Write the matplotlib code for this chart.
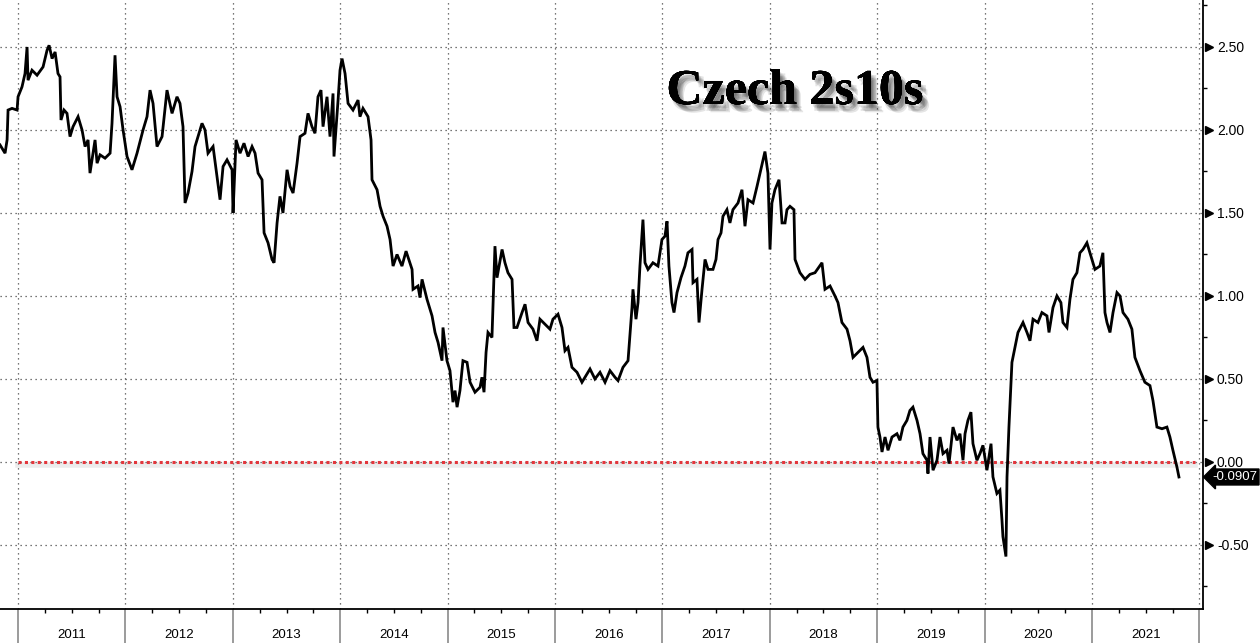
import numpy as np
import matplotlib.pyplot as plt
import matplotlib.patheffects as pe
import matplotlib.transforms as mtransforms
from matplotlib.ticker import MultipleLocator, FixedLocator, FuncFormatter

# Czech 2y-10y spread (dates as decimal years)
dates = [
    # 2010 / 2011
    2010.832, 2010.879, 2010.898, 2010.907, 2010.944, 2010.991, 2011.000, 2011.037, 2011.065, 2011.084,
    2011.093, 2011.130, 2011.177, 2011.233, 2011.270, 2011.289, 2011.317, 2011.345, 2011.372, 2011.391,
    2011.400, 2011.428, 2011.456, 2011.484, 2011.512, 2011.559, 2011.596, 2011.624, 2011.652, 2011.670,
    2011.717, 2011.736, 2011.764, 2011.810, 2011.857, 2011.875, 2011.903, 2011.922, 2011.950, 2011.978,
    # 2012
    2012.015, 2012.061, 2012.108, 2012.164, 2012.201, 2012.229, 2012.257, 2012.294, 2012.341, 2012.387,
    2012.434, 2012.480, 2012.508, 2012.536, 2012.555, 2012.583, 2012.620, 2012.648, 2012.713, 2012.741,
    2012.769, 2012.816, 2012.853, 2012.881, 2012.909, 2012.946, 2012.993,
    # 2013
    2013.002, 2013.030, 2013.067, 2013.104, 2013.142, 2013.179, 2013.207, 2013.235, 2013.272, 2013.291,
    2013.328, 2013.365, 2013.384, 2013.412, 2013.439, 2013.467, 2013.505, 2013.533, 2013.561, 2013.598,
    2013.626, 2013.672, 2013.700, 2013.737, 2013.765, 2013.793, 2013.821, 2013.840, 2013.877, 2013.905,
    2013.933, 2013.942, 2013.980, 2013.998,
    # 2014
    2014.017, 2014.045, 2014.073, 2014.119, 2014.166, 2014.184, 2014.212, 2014.259, 2014.287, 2014.296,
    2014.343, 2014.371, 2014.399, 2014.436, 2014.464, 2014.492, 2014.529, 2014.575, 2014.613, 2014.669,
    2014.678, 2014.724, 2014.743, 2014.762, 2014.808, 2014.855, 2014.883, 2014.911, 2014.948, 2014.957,
    2014.994,
    # 2015
    2015.022, 2015.050, 2015.069, 2015.088, 2015.115, 2015.143, 2015.181, 2015.209, 2015.255, 2015.302,
    2015.320, 2015.339, 2015.358, 2015.376, 2015.413, 2015.441, 2015.460, 2015.507, 2015.534, 2015.562,
    2015.600, 2015.618, 2015.646, 2015.693, 2015.721, 2015.749, 2015.795, 2015.832, 2015.860, 2015.907,
    2015.953, 2015.981,
    # 2016
    2016.028, 2016.065, 2016.093, 2016.121, 2016.158, 2016.205, 2016.251, 2016.279, 2016.326, 2016.372,
    2016.419, 2016.466, 2016.512, 2016.559, 2016.587, 2016.633, 2016.680, 2016.717, 2016.726, 2016.754,
    2016.773, 2016.791, 2016.819, 2016.838, 2016.866, 2016.912, 2016.959, 2016.996,
    # 2017
    2017.024, 2017.043, 2017.061, 2017.089, 2017.108, 2017.136, 2017.173, 2017.210, 2017.238, 2017.276,
    2017.285, 2017.322, 2017.341, 2017.369, 2017.397, 2017.425, 2017.471, 2017.499, 2017.518, 2017.546,
    2017.564, 2017.601, 2017.629, 2017.657, 2017.704, 2017.741, 2017.769, 2017.797, 2017.844, 2017.881,
    2017.909, 2017.955, 2017.983,
    # 2018
    2018.002, 2018.020, 2018.048, 2018.086, 2018.114, 2018.142, 2018.160, 2018.188, 2018.225, 2018.235,
    2018.281, 2018.328, 2018.374, 2018.421, 2018.486, 2018.514, 2018.561, 2018.607, 2018.635, 2018.672,
    2018.719, 2018.747, 2018.775, 2018.821, 2018.868, 2018.905, 2018.933, 2018.961, 2018.998,
    # 2019
    2019.007, 2019.026, 2019.045, 2019.073, 2019.101, 2019.138, 2019.184, 2019.212, 2019.240, 2019.277,
    2019.305, 2019.333, 2019.371, 2019.399, 2019.426, 2019.464, 2019.473, 2019.492, 2019.520, 2019.557,
    2019.585, 2019.613, 2019.650, 2019.669, 2019.706, 2019.743, 2019.771, 2019.799, 2019.818, 2019.845,
    2019.873, 2019.892, 2019.929, 2019.957, 2019.985,
    # 2020
    2020.022, 2020.060, 2020.078, 2020.115, 2020.143, 2020.162, 2020.171, 2020.199, 2020.209, 2020.227,
    2020.255, 2020.283, 2020.311, 2020.358, 2020.395, 2020.423, 2020.451, 2020.497, 2020.534, 2020.581,
    2020.600, 2020.637, 2020.674, 2020.711, 2020.730, 2020.767, 2020.795, 2020.823, 2020.860, 2020.888,
    2020.916, 2020.953, 2020.981,
    # 2021
    2021.028, 2021.074, 2021.102, 2021.121, 2021.140, 2021.168, 2021.196, 2021.233, 2021.261, 2021.289,
    2021.335, 2021.372, 2021.400, 2021.447, 2021.493, 2021.540, 2021.568, 2021.605, 2021.652, 2021.698,
    2021.726, 2021.754, 2021.791, 2021.810,
]

spread = [
    # 2010 / 2011
    1.91, 1.86, 1.94, 2.12, 2.13, 2.12, 2.20, 2.26, 2.34, 2.50,
    2.30, 2.36, 2.33, 2.38, 2.48, 2.51, 2.43, 2.47, 2.34, 2.32,
    2.06, 2.12, 2.10, 1.96, 2.02, 2.08, 2.00, 1.90, 1.94, 1.74,
    1.94, 1.80, 1.85, 1.83, 1.86, 2.04, 2.45, 2.20, 2.14, 2.00,
    # 2012
    1.84, 1.76, 1.86, 2.00, 2.08, 2.24, 2.16, 1.90, 1.96, 2.24,
    2.10, 2.20, 2.16, 2.02, 1.56, 1.62, 1.75, 1.90, 2.04, 2.00,
    1.86, 1.90, 1.72, 1.58, 1.78, 1.82, 1.76,
    # 2013
    1.50, 1.94, 1.86, 1.92, 1.84, 1.90, 1.86, 1.74, 1.70, 1.38,
    1.32, 1.22, 1.20, 1.44, 1.60, 1.50, 1.76, 1.66, 1.62, 1.80,
    1.96, 1.98, 2.10, 2.02, 1.98, 2.20, 2.24, 2.02, 2.20, 1.96,
    2.22, 1.84, 2.18, 2.36,
    # 2014
    2.43, 2.34, 2.16, 2.12, 2.18, 2.08, 2.13, 2.08, 1.94, 1.70,
    1.64, 1.54, 1.48, 1.42, 1.34, 1.18, 1.25, 1.18, 1.27, 1.16,
    1.04, 1.06, 0.99, 1.10, 0.98, 0.88, 0.78, 0.72, 0.61, 0.81,
    0.61,
    # 2015
    0.55, 0.36, 0.43, 0.33, 0.43, 0.61, 0.60, 0.48, 0.42, 0.45,
    0.51, 0.42, 0.66, 0.78, 0.75, 1.30, 1.11, 1.28, 1.20, 1.14,
    1.10, 0.81, 0.81, 0.90, 0.95, 0.84, 0.80, 0.73, 0.86, 0.83,
    0.80, 0.86,
    # 2016
    0.89, 0.81, 0.67, 0.69, 0.57, 0.54, 0.48, 0.51, 0.56, 0.50,
    0.54, 0.48, 0.55, 0.51, 0.49, 0.57, 0.61, 0.93, 1.04, 0.86,
    0.96, 1.18, 1.46, 1.20, 1.16, 1.20, 1.18, 1.34,
    # 2017
    1.36, 1.45, 1.18, 0.96, 0.90, 1.02, 1.11, 1.18, 1.26, 1.28,
    1.08, 1.10, 0.84, 1.04, 1.22, 1.16, 1.16, 1.22, 1.34, 1.38,
    1.48, 1.52, 1.44, 1.52, 1.56, 1.64, 1.42, 1.58, 1.56, 1.66,
    1.74, 1.87, 1.74,
    # 2018
    1.28, 1.56, 1.64, 1.70, 1.44, 1.44, 1.52, 1.54, 1.52, 1.22,
    1.14, 1.10, 1.13, 1.14, 1.20, 1.04, 1.06, 1.00, 0.96, 0.84,
    0.80, 0.73, 0.63, 0.66, 0.69, 0.63, 0.51, 0.48, 0.49,
    # 2019
    0.21, 0.15, 0.06, 0.15, 0.07, 0.15, 0.17, 0.13, 0.21, 0.25,
    0.31, 0.33, 0.25, 0.17, 0.05, 0.01, -0.07, 0.15, -0.05, 0.01,
    0.15, 0.05, 0.07, -0.01, 0.21, 0.13, 0.17, 0.01, 0.17, 0.25,
    0.30, 0.11, 0.01, 0.05, 0.10,
    # 2020
    -0.05, 0.11, -0.09, -0.19, -0.17, -0.35, -0.45, -0.57, -0.09, 0.21,
    0.60, 0.69, 0.78, 0.84, 0.78, 0.73, 0.86, 0.84, 0.90, 0.88,
    0.78, 0.93, 1.00, 0.96, 0.84, 0.81, 0.98, 1.10, 1.14, 1.26,
    1.28, 1.32, 1.26,
    # 2021
    1.16, 1.18, 1.26, 0.90, 0.84, 0.78, 0.90, 1.02, 1.00, 0.90,
    0.86, 0.80, 0.63, 0.55, 0.48, 0.46, 0.37, 0.21, 0.20, 0.21,
    0.15, 0.07, -0.03, -0.0907,
]

year_labels = list(range(2011, 2022))
y_ticks = [-0.5, 0.0, 0.5, 1.0, 1.5, 2.0, 2.5]
title = 'Czech 2s10s'

plt.rcParams['font.family'] = ['Liberation Sans', 'DejaVu Sans']

fig = plt.figure(figsize=(12.6, 6.43), dpi=100)
ax = fig.add_axes([0.0, 1 - 609 / 643, 1203 / 1260, 609 / 643])

ax.plot(dates, spread, color='black', lw=2.0, zorder=4, solid_joinstyle='miter')

# zero line (red dotted with a faint shadow)
ax.plot([2011.0, 2021.96], [0, 0], color='#999999', lw=4, alpha=0.18, zorder=2,
        transform=ax.transData + mtransforms.ScaledTranslation(0, -2 / 72, fig.dpi_scale_trans))
ax.plot([2011.0, 2021.96], [0, 0], color='#e3363c', lw=2.2, ls=(0, (1, 1.1)), zorder=3)

ax.set_xlim(2010.832, 2022.034)
ax.set_ylim(-0.886, 2.783)

# x axis: year separators + quarter ticks
ax.xaxis.set_major_locator(FixedLocator(range(2011, 2023)))
ax.xaxis.set_minor_locator(MultipleLocator(0.25))
ax.tick_params(axis='x', which='major', length=25, width=1.2, color='#8a8a8a', labelbottom=False)
ax.tick_params(axis='x', which='minor', length=3, width=1, color='black')
for yr in year_labels:
    ax.text(yr + 0.5, -0.043, str(yr), transform=ax.get_xaxis_transform(),
            ha='center', va='center', fontsize=9.5)

# y axis on the right
ax.yaxis.tick_right()
ax.yaxis.set_major_locator(FixedLocator(y_ticks))
ax.yaxis.set_minor_locator(MultipleLocator(0.25))
ax.yaxis.set_major_formatter(FuncFormatter(lambda v, p: f'{v:.2f}'))
ax.tick_params(axis='y', which='major', length=0, pad=10, labelsize=10)
ax.tick_params(axis='y', which='minor', length=3, width=1, color='black')

tri = ax.get_yaxis_transform() + mtransforms.ScaledTranslation(4.5 / 72, 0, fig.dpi_scale_trans)
ax.plot([1.0] * len(y_ticks), y_ticks, transform=tri, marker='>', ms=5.5, ls='none',
        color='black', clip_on=False)

ax.grid(True, which='major', color='#4a4a4a', ls=(0, (1, 3)), lw=0.9)

for s in ['top', 'left']:
    ax.spines[s].set_visible(False)
for s in ['right', 'bottom']:
    ax.spines[s].set_linewidth(1.3)
    ax.spines[s].set_color('black')

# last value tag
tag = ax.get_yaxis_transform() + mtransforms.ScaledTranslation(6.5 / 72, 0, fig.dpi_scale_trans)
ax.text(1.0, spread[-1], f'{spread[-1]:.4f}', transform=tag, color='white', fontsize=9.5,
        ha='left', va='center', clip_on=False,
        bbox=dict(boxstyle='larrow,pad=0.15', fc='black', ec='black'))

# title with a soft drop shadow
shadow = [pe.withSimplePatchShadow(offset=(dx, dy), shadow_rgbFace='black', alpha=0.10)
          for dx, dy in [(1, -2), (2, -3), (3, -4), (4, -5), (2, -5), (4, -3), (5, -6)]]
fig.text(0.631, 0.857, title, family='Liberation Serif', weight='bold', fontsize=36,
         ha='center', va='center', path_effects=shadow + [pe.Normal()])

plt.savefig('out.png', dpi=100)
